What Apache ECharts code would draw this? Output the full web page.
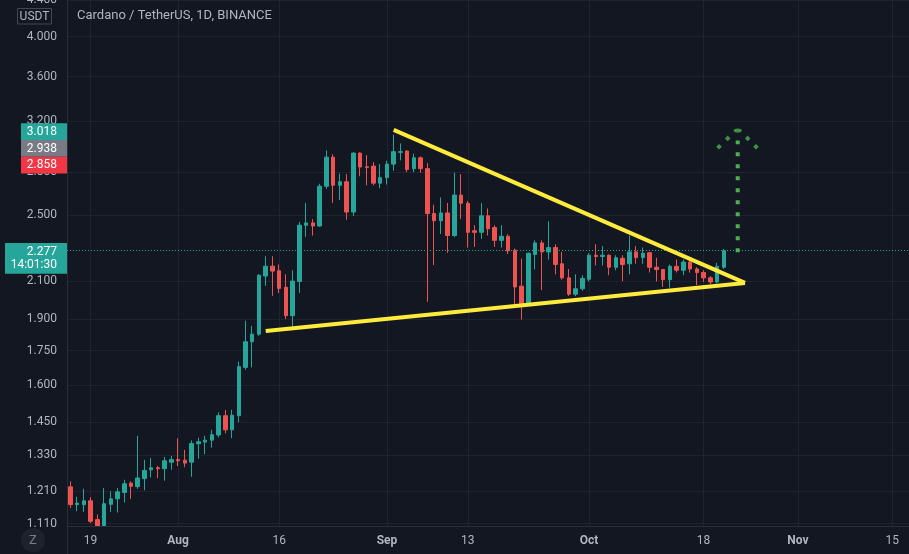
<!DOCTYPE html>
<html>
<head>
<meta charset="utf-8">
<style>
    html, body { margin: 0; padding: 0; background: #131722; }
    #chart { width: 909px; height: 554px; }
</style>
<script src="https://cdn.jsdelivr.net/npm/echarts@6/dist/echarts.min.js"></script>
</head>
<body>
<div id="chart"></div>
<script>
// ADA / USDT daily candles, first one is 2021-07-16
const firstDay = '2021-07-16'
const dayCount = 125 // axis runs to Nov 17

const opens = [
    1.223, 1.167, 1.167, 1.179, 1.122, 1.060, 1.168, 1.185, 1.205, 1.235,
    1.224, 1.250, 1.279, 1.286, 1.283, 1.305, 1.314, 1.312, 1.305, 1.370,
    1.376, 1.383, 1.402, 1.475, 1.421, 1.475, 1.675, 1.792, 1.828, 2.130,
    2.186, 2.160, 2.068, 1.919, 2.100, 2.435, 2.450, 2.430, 2.698, 2.913,
    2.705, 2.730, 2.521, 2.944, 2.840, 2.845, 2.720, 2.760, 2.860, 2.950,
    2.960, 2.826, 2.908, 2.826, 2.511, 2.464, 2.515, 2.370, 2.636, 2.580,
    2.400, 2.390, 2.496, 2.420, 2.340, 2.365, 2.280, 2.074, 1.980, 2.255,
    2.324, 2.270, 2.296, 2.200, 2.120, 2.031, 2.060, 2.112, 2.250, 2.243,
    2.250, 2.180, 2.232, 2.200, 2.270, 2.236, 2.265, 2.180, 2.167, 2.110,
    2.185, 2.163, 2.210, 2.170, 2.150, 2.120, 2.097, 2.180
]
const closes = [
    1.167, 1.172, 1.179, 1.117, 1.060, 1.170, 1.185, 1.207, 1.233, 1.225,
    1.252, 1.277, 1.286, 1.283, 1.310, 1.314, 1.310, 1.302, 1.371, 1.377,
    1.383, 1.403, 1.475, 1.421, 1.477, 1.678, 1.792, 1.828, 2.135, 2.186,
    2.158, 2.062, 1.919, 2.102, 2.435, 2.450, 2.430, 2.698, 2.913, 2.705,
    2.730, 2.521, 2.944, 2.838, 2.835, 2.720, 2.760, 2.860, 2.955, 2.955,
    2.820, 2.908, 2.826, 2.511, 2.464, 2.515, 2.370, 2.636, 2.580, 2.390,
    2.390, 2.496, 2.412, 2.340, 2.365, 2.276, 2.070, 1.980, 2.262, 2.324,
    2.270, 2.296, 2.196, 2.120, 2.031, 2.060, 2.117, 2.250, 2.243, 2.250,
    2.180, 2.235, 2.196, 2.270, 2.236, 2.262, 2.180, 2.167, 2.110, 2.185,
    2.163, 2.210, 2.170, 2.150, 2.120, 2.097, 2.185, 2.277
]
const lows = [
    1.157, 1.147, 1.145, 1.112, 1.010, 1.020, 1.145, 1.143, 1.174, 1.185,
    1.217, 1.212, 1.254, 1.251, 1.243, 1.279, 1.292, 1.288, 1.256, 1.317,
    1.333, 1.356, 1.393, 1.408, 1.390, 1.450, 1.664, 1.675, 1.820, 2.076,
    2.022, 2.037, 1.902, 1.866, 2.037, 2.361, 2.370, 2.425, 2.680, 2.582,
    2.601, 2.470, 2.495, 2.770, 2.705, 2.705, 2.684, 2.710, 2.810, 2.888,
    2.800, 2.800, 2.795, 1.990, 2.193, 2.380, 2.264, 2.360, 2.475, 2.296,
    2.300, 2.350, 2.370, 2.300, 2.296, 2.257, 1.960, 1.900, 1.975, 2.167,
    2.053, 2.225, 2.140, 2.110, 2.022, 2.020, 2.050, 2.100, 2.190, 2.190,
    2.135, 2.163, 2.102, 2.140, 2.200, 2.200, 2.150, 2.100, 2.070, 2.066,
    2.150, 2.135, 2.150, 2.080, 2.097, 2.085, 2.090, 2.170
]
const highs = [
    1.241, 1.192, 1.217, 1.190, 1.137, 1.219, 1.209, 1.219, 1.246, 1.241,
    1.399, 1.313, 1.319, 1.292, 1.323, 1.327, 1.390, 1.348, 1.382, 1.392,
    1.399, 1.421, 1.488, 1.497, 1.498, 1.700, 1.894, 1.868, 2.140, 2.244,
    2.244, 2.196, 2.140, 2.163, 2.456, 2.582, 2.475, 2.716, 2.965, 2.935,
    2.789, 2.785, 2.950, 2.950, 2.928, 2.875, 2.860, 2.885, 3.090, 3.020,
    2.965, 2.940, 2.918, 2.868, 2.570, 2.620, 2.582, 2.797, 2.785, 2.595,
    2.435, 2.582, 2.545, 2.435, 2.435, 2.378, 2.290, 2.230, 2.266, 2.340,
    2.340, 2.460, 2.316, 2.270, 2.170, 2.140, 2.135, 2.262, 2.316, 2.305,
    2.255, 2.250, 2.250, 2.370, 2.305, 2.296, 2.268, 2.235, 2.170, 2.196,
    2.225, 2.225, 2.235, 2.180, 2.163, 2.130, 2.205, 2.288
]

const priceTicks = [1.11, 1.21, 1.33, 1.45, 1.6, 1.75, 1.9, 2.1, 2.5, 2.8, 3.2, 3.6, 4.0, 4.4]
const dateTicks = [3, 16, 31, 47, 59, 77, 94, 108, 122] // day index from firstDay
const dateTickText = ['19', 'Aug', '16', 'Sep', '13', 'Oct', '18', 'Nov', '15']

// drawings: [day index, price]
const upperLine = [[48, 3.129], [100.15, 2.092]]
const lowerLine = [[29, 1.843], [100.15, 2.092]]
const arrowShaft = [[99.07, 2.268], [99.07, 3.044]]
const arrowHead = [[96.3, 2.994], [97.58, 3.06], [100.55, 3.06], [101.78, 2.994]]
const arrowTip = [[99.07, 3.125]]

const sideLabels = ['3.018', '2.938', '2.858']
const countdown = '14:01:30'

let days = []
let d = new Date(firstDay + 'T00:00:00Z')
for (let i = 0; i < dayCount; i++) {
    days.push(d.toISOString().slice(0, 10))
    d.setUTCDate(d.getUTCDate() + 1)
}
let candles = opens.map((o, i) => [o, closes[i], lows[i], highs[i]])
let lastClose = closes[closes.length - 1]

const bg = '#131722'
const up = '#26a69a'
const down = '#ef5350'
const txt = '#b2b5be'
const grid = '#1f2330'
const border = '#2a2e39'
const font = 'Roboto, sans-serif'

let myChart = echarts.init(document.getElementById('chart'))

let dayAxis = {
    type: 'value',
    min: -0.5,
    max: dayCount - 0.5,
    position: 'bottom',
    axisLine: { show: false, onZero: false },
    axisTick: { show: false, customValues: dateTicks },
    axisLabel: { show: false, customValues: dateTicks },
    splitLine: { show: true, lineStyle: { color: grid, width: 1 } }
}
// same scale again, drawn on top of the bottom cover so the labels stay visible
let dayLabelAxis = {
    type: 'value',
    min: -0.5,
    max: dayCount - 0.5,
    position: 'bottom',
    z: 60,
    axisLine: { show: true, onZero: false, lineStyle: { color: border } },
    axisTick: { show: false, customValues: dateTicks },
    axisLabel: {
        customValues: dateTicks,
        color: txt,
        fontSize: 12,
        fontFamily: font,
        margin: 9,
        formatter: function(v) {
            let t = dateTickText[dateTicks.indexOf(Math.round(v))]
            if (t === undefined) return ''
            return /^\d+$/.test(t) ? t : '{m|' + t + '}'
        },
        rich: { m: { fontWeight: 'bold', fontSize: 12, fontFamily: font, color: txt } }
    },
    splitLine: { show: false }
}

let option = {
    backgroundColor: bg,
    animation: false,
    grid: { left: 67, right: 0, top: 0, bottom: 28, containLabel: false, outerBoundsMode: 'none' },
    xAxis: [{
        type: 'category',
        data: days,
        boundaryGap: true,
        show: false
    }, dayAxis, dayLabelAxis],
    yAxis: {
        type: 'log',
        min: 1.1033,
        max: 4.405,
        position: 'left',
        axisLine: { show: true, onZero: false, lineStyle: { color: border } },
        axisTick: { show: false, customValues: priceTicks },
        axisLabel: {
            customValues: priceTicks,
            color: txt,
            fontSize: 12,
            fontFamily: font,
            margin: 10,
            formatter: v => Number(v).toFixed(3)
        },
        splitLine: { show: true, lineStyle: { color: grid, width: 1 } }
    },
    series: [{
        type: 'candlestick',
        xAxisIndex: 0,
        yAxisIndex: 0,
        data: candles,
        barWidth: 4,
        clip: true,
        itemStyle: {
            color: up,
            color0: down,
            borderColor: up,
            borderColor0: down,
            borderWidth: 1
        },
        markLine: {
            silent: true,
            symbol: ['none', 'none'],
            label: { show: false },
            lineStyle: { color: up, type: [1, 2], width: 1 },
            data: [{ yAxis: lastClose }]
        }
    }, {
        type: 'line',
        xAxisIndex: 1,
        data: upperLine,
        symbol: 'none',
        silent: true,
        z: 5,
        lineStyle: { color: '#ffeb3b', width: 4 }
    }, {
        type: 'line',
        xAxisIndex: 1,
        data: lowerLine,
        symbol: 'none',
        silent: true,
        z: 5,
        lineStyle: { color: '#ffeb3b', width: 4 }
    }, {
        type: 'line',
        xAxisIndex: 1,
        data: arrowShaft,
        symbol: 'none',
        silent: true,
        z: 5,
        lineStyle: { color: '#4caf50', width: 4, type: [4, 8], cap: 'butt' }
    }, {
        type: 'scatter',
        xAxisIndex: 1,
        data: arrowHead,
        symbol: 'rect',
        symbolSize: 4,
        symbolRotate: 45,
        silent: true,
        z: 5,
        itemStyle: { color: '#4caf50' }
    }, {
        type: 'scatter',
        xAxisIndex: 1,
        data: arrowTip,
        symbol: 'circle',
        symbolSize: [8, 4],
        silent: true,
        z: 5,
        itemStyle: { color: '#4caf50' }
    }]
}
myChart.setOption(option)

// candles below the scale bottom are hidden behind this strip
let bottomY = myChart.convertToPixel({ yAxisIndex: 0 }, 1.1033)
let py = myChart.convertToPixel({ yAxisIndex: 0 }, lastClose)
let boxColors = ['#26a69a', '#787b86', '#f23645']
let graphics = [{
    type: 'rect', z: 50,
    shape: { x: 67, y: bottomY, width: 842, height: 554 - bottomY },
    style: { fill: bg }
}, {
    // price scale border runs down through the time scale
    type: 'line', z: 100,
    shape: { x1: 67.5, y1: bottomY, x2: 67.5, y2: 554 },
    style: { stroke: border, lineWidth: 1 }
}, {
    type: 'text', x: 77, y: 16, z: 100,
    style: { text: 'Cardano / TetherUS, 1D, BINANCE', fill: txt, font: '13px ' + font, textVerticalAlign: 'middle' }
}, {
    type: 'rect', z: 100,
    shape: { x: 17.5, y: 8.5, width: 34, height: 15.5 },
    style: { fill: bg, stroke: '#434651', lineWidth: 1 }
}, {
    type: 'text', x: 34.5, y: 16.5, z: 101,
    style: { text: 'USDT', fill: txt, font: '12px ' + font, textAlign: 'center', textVerticalAlign: 'middle' }
}, {
    type: 'circle', z: 100,
    shape: { cx: 33, cy: 540, r: 12 },
    style: { fill: '#1e222d' }
}, {
    type: 'text', x: 33, y: 540.5, z: 101,
    style: { text: 'Z', fill: '#787b86', font: '13px ' + font, textAlign: 'center', textVerticalAlign: 'middle' }
}]
sideLabels.forEach((t, i) => {
    graphics.push({
        type: 'rect', z: 100,
        shape: { x: 21, y: 123.3 + i * 16.7, width: 46, height: 16.7 },
        style: { fill: boxColors[i] }
    })
    graphics.push({
        type: 'text', x: 57, y: 131.8 + i * 16.7, z: 101,
        style: { text: t, fill: '#ffffff', font: '12px ' + font, textAlign: 'right', textVerticalAlign: 'middle' }
    })
})
graphics.push({
    type: 'rect', z: 100,
    shape: { x: 5, y: py - 7.6, width: 62, height: 30.6 },
    style: { fill: up }
})
graphics.push({
    type: 'text', x: 57, y: py + 1.4, z: 101,
    style: { text: lastClose.toFixed(3), fill: '#ffffff', font: '12px ' + font, textAlign: 'right', textVerticalAlign: 'middle' }
})
graphics.push({
    type: 'text', x: 57, y: py + 14.7, z: 101,
    style: { text: countdown, fill: '#ffffff', font: '12px ' + font, textAlign: 'right', textVerticalAlign: 'middle' }
})
myChart.setOption({ graphic: graphics })
</script>
</body>
</html>
